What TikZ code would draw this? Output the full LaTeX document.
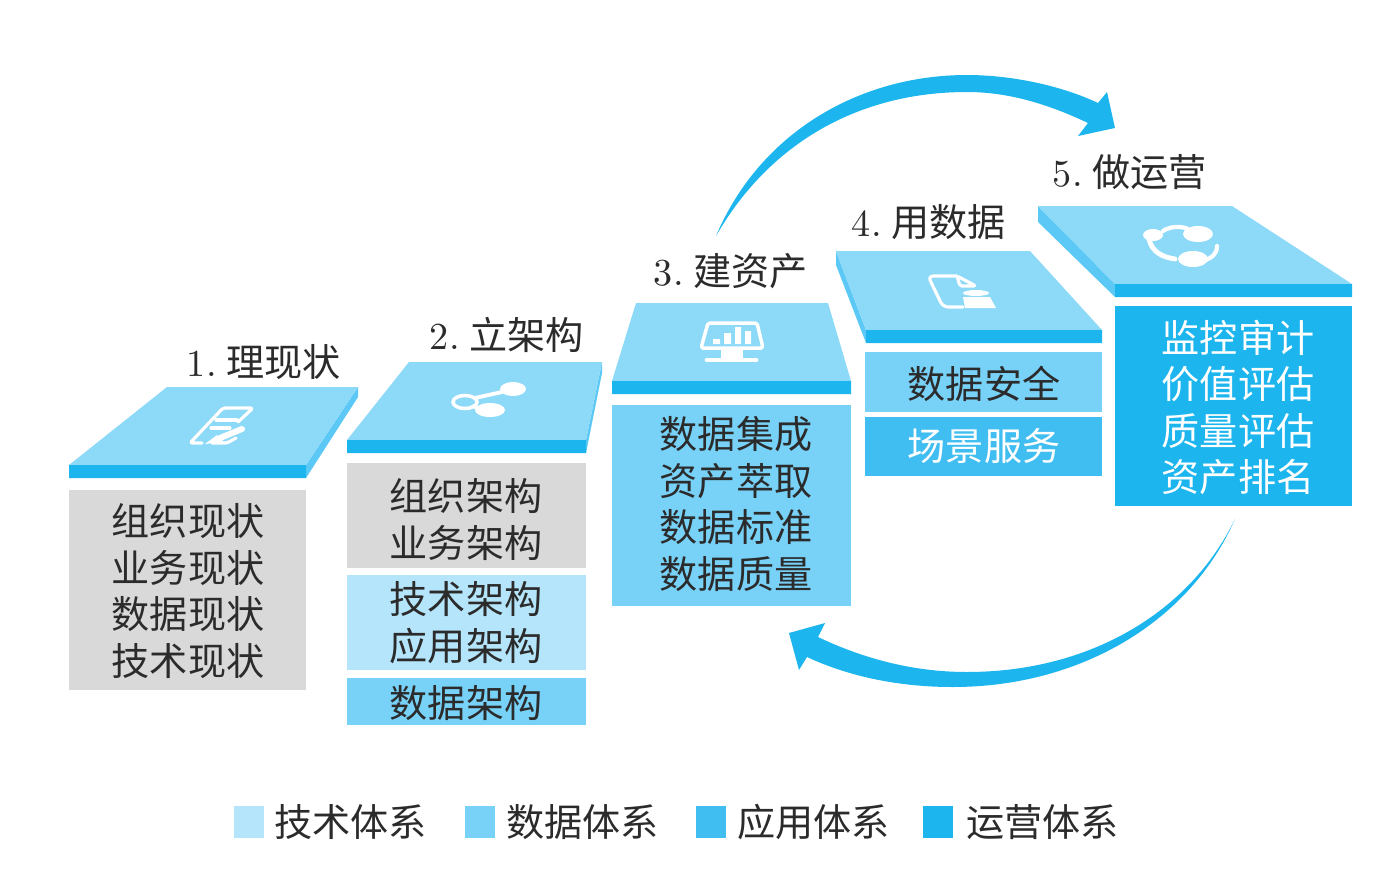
\documentclass[tikz,border=0pt]{standalone}
\usepackage{fontspec}
\newfontfamily\cjk{Noto Sans CJK SC}
\usetikzlibrary{positioning}
\usepackage{tkz-euclide}
\definecolor{OpsClr}{HTML}{1CB5EE}
\definecolor{AppClr}{HTML}{41BEF1}
\definecolor{DataClr}{HTML}{78D2F8}
\definecolor{TechClr}{HTML}{B5E5FA}
\definecolor{GrayClr}{HTML}{D9D9D9}
\definecolor{TopClr}{HTML}{8DD9F8}
\definecolor{SideClr}{HTML}{5CC8F5}
\definecolor{InkClr}{HTML}{2B2B2B}
\tikzset{
  stepbox/.style={inner sep=0pt,minimum width=#1},
  steptext/.style={inner sep=0pt,align=center,text=InkClr,
    font=\cjk\fontsize{10.85}{13.2}\selectfont},
  steptitle/.style={inner sep=0pt,text=InkClr,font=\fontsize{10.85}{13.2}\selectfont},
  legendbox/.style={inner sep=0pt,minimum width=.3cm,minimum height=.32cm},
  legendtext/.style={inner sep=0pt,text=InkClr,font=\cjk\fontsize{10.85}{13.2}\selectfont},
  icon/.style={white,line width=.9pt,line cap=round,line join=round,rounded corners=.5pt}
}
\begin{document}
\begin{tikzpicture}
\useasboundingbox (0,0) rectangle (13.94,8.82);

\tkzDefPoints{1.67/4.95/Aa,3.58/4.95/Ab,3.58/4.85/Ac,3.06/4.17/Ad,.69/4.17/Ae,.69/4.04/Af,3.06/4.04/Ag}
\tkzDefPoints{4.09/5.20/Ba,6.02/5.20/Bb,6.02/5.09/Bc,5.86/4.42/Bd,3.47/4.42/Be,3.47/4.29/Bf,5.86/4.29/Bg}
\tkzDefPoints{6.36/5.79/Ca,8.28/5.79/Cb,8.51/5.01/Cd,6.12/5.01/Ce,6.12/4.88/Cf,8.51/4.88/Cg}
\tkzDefPoints{8.36/6.31/Da,10.30/6.31/Db,11.02/5.52/Dd,8.66/5.52/De,8.66/5.39/Df,11.02/5.39/Dg,8.36/6.17/Dh}
\tkzDefPoints{10.38/6.76/Ea,12.32/6.76/Eb,13.52/5.98/Ed,11.15/5.98/Ee,11.15/5.85/Ef,13.52/5.85/Eg,10.38/6.60/Eh}

\tkzFillPolygon[color=SideClr](Ab,Ac,Ag,Ad)
\tkzFillPolygon[color=TopClr](Aa,Ab,Ad,Ae)
\tkzFillPolygon[color=OpsClr](Ae,Ad,Ag,Af)
\tkzFillPolygon[color=SideClr](Bb,Bc,Bg,Bd)
\tkzFillPolygon[color=TopClr](Ba,Bb,Bd,Be)
\tkzFillPolygon[color=OpsClr](Be,Bd,Bg,Bf)
\tkzFillPolygon[color=TopClr](Ca,Cb,Cd,Ce)
\tkzFillPolygon[color=OpsClr](Ce,Cd,Cg,Cf)
\tkzFillPolygon[color=SideClr](Da,Dh,Df,De)
\tkzFillPolygon[color=TopClr](Da,Db,Dd,De)
\tkzFillPolygon[color=OpsClr](De,Dd,Dg,Df)
\tkzFillPolygon[color=SideClr](Ea,Eh,Ef,Ee)
\tkzFillPolygon[color=TopClr](Ea,Eb,Ed,Ee)
\tkzFillPolygon[color=OpsClr](Ee,Ed,Eg,Ef)

\node[steptitle] (title1) at (2.64,5.20) {1.\hspace{.1cm}{\cjk 理现状}};
\node[steptitle] (title2) at (5.07,5.47) {2.\hspace{.1cm}{\cjk 立架构}};
\node[steptitle] (title3) at (7.31,6.11) {3.\hspace{.1cm}{\cjk 建资产}};
\node[steptitle] (title4) at (9.29,6.60) {4.\hspace{.1cm}{\cjk 用数据}};
\node[steptitle] (title5) at (11.30,7.10) {5.\hspace{.1cm}{\cjk 做运营}};

\node[stepbox=2.37cm,fill=GrayClr,minimum height=2cm] (box1) at (1.875,2.92) {};
\node[stepbox=2.39cm,fill=GrayClr,minimum height=1.05cm] (box2a) at (4.665,3.665) {};
\node[stepbox=2.39cm,fill=TechClr,minimum height=.95cm] (box2b) at (4.665,2.595) {};
\node[stepbox=2.39cm,fill=DataClr,minimum height=.47cm] (box2c) at (4.665,1.805) {};
\node[stepbox=2.39cm,fill=DataClr,minimum height=2.01cm] (box3) at (7.315,3.765) {};
\node[stepbox=2.37cm,fill=DataClr,minimum height=.6cm] (box4a) at (9.835,5.0) {};
\node[stepbox=2.37cm,fill=AppClr,minimum height=.59cm] (box4b) at (9.835,4.355) {};
\node[stepbox=2.37cm,fill=OpsClr,minimum height=2cm] (box5) at (12.335,4.76) {};

\node[steptext] (text1) at (1.88,2.91) {组织现状\\业务现状\\数据现状\\技术现状};
\node[steptext] (text2a) at (4.66,3.625) {组织架构\\业务架构};
\node[steptext] (text2b) at (4.66,2.595) {技术架构\\应用架构};
\node[steptext] (text2c) at (4.66,1.785) {数据架构};
\node[steptext] (text3) at (7.36,3.78) {数据集成\\资产萃取\\数据标准\\数据质量};
\node[steptext] (text4a) at (9.84,4.98) {数据安全};
\node[steptext,text=white] (text4b) at (9.84,4.355) {场景服务};
\node[steptext,text=white] (text5) at (12.38,4.745) {监控审计\\价值评估\\质量评估\\资产排名};

% legend
\node[legendbox,fill=TechClr] (key1) at (2.49,.60) {};
\node[legendtext,right=.09cm of key1] (keytext1) {技术体系};
\node[legendbox,fill=DataClr] (key2) at (4.80,.60) {};
\node[legendtext,right=.10cm of key2] (keytext2) {数据体系};
\node[legendbox,fill=AppClr] (key3) at (7.11,.60) {};
\node[legendtext,right=.10cm of key3] (keytext3) {应用体系};
\node[legendbox,fill=OpsClr] (key4) at (9.38,.60) {};
\node[legendtext,right=.12cm of key4] (keytext4) {运营体系};

\fill[OpsClr] (7.16,6.46) .. controls (7.6,7.5) and (8.6,8.07) .. (9.67,8.07)
  .. controls (10.1,8.07) and (10.6,7.97) .. (10.98,7.79) -- (11.07,7.90) -- (11.15,7.54)
  -- (10.78,7.46) -- (10.88,7.59) .. controls (10.5,7.77) and (10.1,7.90) .. (9.67,7.90)
  .. controls (8.6,7.9) and (7.7,7.4) .. cycle;
\fill[OpsClr] (12.35,3.63) .. controls (11.9,2.6) and (10.8,1.95) .. (9.53,1.95)
  .. controls (9.0,1.95) and (8.5,2.05) .. (8.07,2.25) -- (7.99,2.12) -- (7.89,2.49)
  -- (8.25,2.59) -- (8.18,2.45) .. controls (8.6,2.25) and (9.1,2.10) .. (9.67,2.10)
  .. controls (10.9,2.10) and (11.9,2.7) .. cycle;

% icons
\draw[icon] (2.38,4.60) -- (2.53,4.74) -- (2.23,4.74) -- (1.90,4.39) -- (2.02,4.39);
\draw[icon] (2.16,4.62) -- (2.37,4.62) (2.11,4.54) -- (2.30,4.54);
\draw[icon,line width=1.7pt] (2.42,4.53) -- (2.20,4.44);
\fill[white] (2.17,4.47) -- (2.24,4.40) -- (2.05,4.38) -- cycle;
\draw[icon] (2.12,4.39) -- (2.27,4.39) -- (2.36,4.44);

\draw[white,line width=1pt] (4.65,4.80) ellipse (.12 and .065);
\fill[white] (5.13,4.93) ellipse (.13 and .07);
\fill[white] (4.90,4.72) ellipse (.15 and .07);
\draw[icon,line width=1.1pt] (4.75,4.84) -- (5.02,4.90) (4.73,4.76) -- (4.82,4.72);

\draw[icon,line width=1pt] (7.08,5.59) -- (7.57,5.59) -- (7.63,5.34) -- (7.01,5.34) -- cycle;
\fill[white] (7.13,5.38) rectangle (7.20,5.43) (7.24,5.38) rectangle (7.31,5.49)
  (7.35,5.38) rectangle (7.41,5.55) (7.45,5.38) rectangle (7.51,5.51);
\fill[white] (7.21,5.32) rectangle (7.43,5.23);
\draw[icon,line width=1.4pt] (7.07,5.22) -- (7.56,5.22);

\draw[icon,rounded corners=1.5pt] (9.57,6.06) -- (9.28,6.06) -- (9.43,5.75) -- (9.63,5.75);
\draw[icon] (9.57,6.06) -- (9.76,5.96) -- (9.60,5.96) -- cycle;
\fill[white] (9.76,5.89) ellipse (.13 and .03);
\fill[white] (9.63,5.85) -- (9.90,5.85) -- (9.96,5.74) -- (9.65,5.74) -- cycle;

\draw[icon,line width=1.2pt] (11.63,6.51) .. controls (11.70,6.56) and (11.82,6.56) .. (11.88,6.53);
\draw[icon,line width=1.4pt] (11.49,6.43) .. controls (11.52,6.30) and (11.62,6.25) .. (11.75,6.23);
\draw[icon,line width=1.2pt] (12.17,6.36) .. controls (12.17,6.28) and (12.12,6.24) .. (12.03,6.21);
\fill[white] (11.53,6.47) ellipse (.10 and .06);
\fill[white] (11.98,6.48) ellipse (.15 and .08);
\fill[white] (11.93,6.23) ellipse (.15 and .08);
\end{tikzpicture}
\end{document}
